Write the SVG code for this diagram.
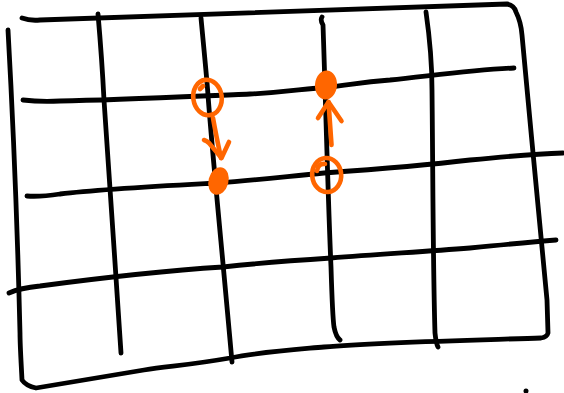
<svg xmlns="http://www.w3.org/2000/svg" width="564" height="393" viewBox="0 0 564 393">
<style>
.ink{fill:none;stroke:#000;stroke-width:4.8;stroke-linecap:round;stroke-linejoin:round}
.or{fill:none;stroke:#ff6600;stroke-width:4.6;stroke-linecap:round;stroke-linejoin:round}
.dot{fill:#ff6600;stroke:none}
</style>
<rect width="564" height="393" fill="#fff"/>
<g id="grid">
<path class="ink" d="M22,18 Q30,21 40,20 C150,15 300,11 507,4 Q514,5 516,12 Q521,22 522,35 C530,120 540,230 547,300 L548,333 Q547,337 541,338 C480,340 380,342 324,347 C290,350 260,352 230,358 C190,365 170,366 144,370 C100,377 60,384 36,388 Q26,386 22,380 C21,360 20,345 20,333 C18,250 13,120 8,30"/>
<path class="ink" d="M98,14 Q102,60 104,100 C108,170 116,270 121,353"/>
<path class="ink" d="M201,18 C204,50 207,80 208,95 C212,150 222,250 232,362"/>
<path class="ink" d="M322,17 Q320,20 323,25 C325,80 328,200 331,267 C332,300 333,320 334,327 Q336,337 340,340"/>
<path class="ink" d="M426,12 C430,40 432,67 432,90 C433,180 433,270 435,333 Q436,343 438,347"/>
<path class="ink" d="M23,100 Q40,102 60,101 C120,100 200,96 250,94 C290,92 300,89 330,87 C350,85 360,82 390,80 C430,76 470,70 514,68"/>
<path class="ink" d="M27,196 Q40,197 60,194 C100,189 160,186 216,183 C260,180 290,176 324,173 C380,169 420,166 470,160 C500,157 530,154 563,153"/>
<path class="ink" d="M9,293 Q20,288 40,286 C100,278 160,271 223,267 C260,263 300,260 331,258 C380,254 420,252 470,248 C500,245 530,242 556,240"/>
<circle cx="526" cy="391" r="2.5" fill="#000"/>
</g>
<g id="node-start-1">
<ellipse class="or" cx="207.5" cy="97.5" rx="14.2" ry="17.8" transform="rotate(-8 207.5 97.5)"/>
<path class="or" d="M200,89 L203,86"/>
</g>
<g id="node-end-1">
<ellipse class="dot" cx="218.5" cy="181" rx="10" ry="14" transform="rotate(15 218.5 181)"/>
</g>
<g id="node-start-2">
<ellipse class="or" cx="326.7" cy="175" rx="14.5" ry="17" transform="rotate(-5 326.7 175)"/>
<path class="or" d="M317,171 Q318,163 325,164"/>
</g>
<g id="node-end-2">
<ellipse class="dot" cx="326" cy="85" rx="11" ry="14.5" transform="rotate(5 326 85)"/>
</g>
<g id="connectors">
<path class="or" d="M213,118 Q216,135 221,158"/>
<path class="or" d="M204,140 Q207,141 209,143 L221.5,158 L229,142"/>
<path class="or" d="M331.5,145 L328.5,102"/>
<path class="or" d="M318,118 L328.5,102 L341.5,121"/>
</g>
</svg>
